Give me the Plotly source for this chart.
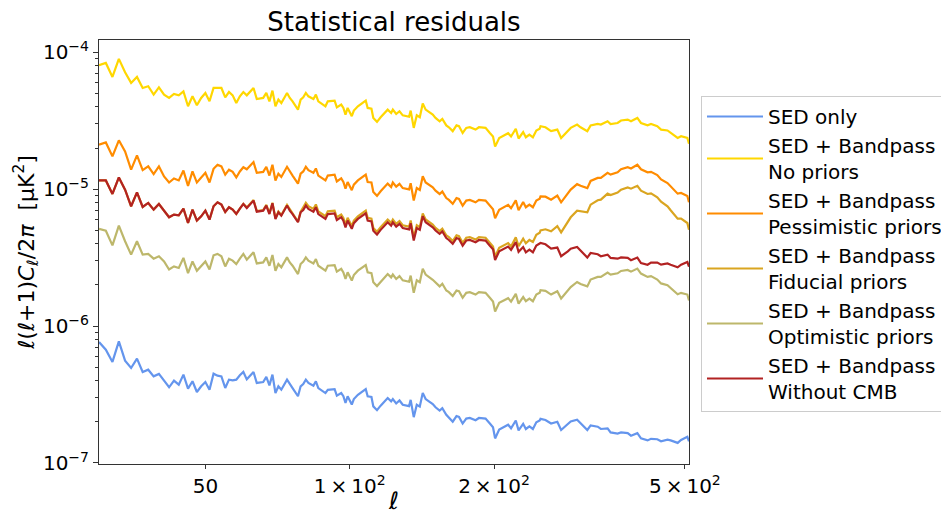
import plotly.graph_objects as go

# multipole values
ell = [30, 31, 32, 33, 34, 35, 36, 37, 38, 39, 40, 41, 42, 43, 44, 45, 46, 47, 48, 49,
       50, 51, 52, 53, 54, 55, 56, 57, 58, 59, 60,
       61, 63, 64, 66, 67, 68, 69, 70, 71, 72, 74, 75, 76, 78, 79, 80, 81, 82, 84, 85,
       86, 89, 90, 93, 94, 96, 97, 98, 99, 101, 102, 104, 108, 109, 111, 112, 114, 116, 120, 122,
       123, 125, 127, 129, 133, 134, 136, 138, 140, 142, 144, 149, 151, 154, 156, 159, 161, 164,
       167, 169, 172, 175, 178, 183, 186, 192, 196, 199, 201, 205, 214, 217, 222, 225, 230, 233,
       237, 241, 245, 249,
       250, 256, 263, 271, 276, 285, 289, 298, 303, 313, 318, 329, 334, 345, 350, 362, 368, 380,
       386, 398, 405, 418, 425, 438, 446, 460, 467, 483, 491, 506, 510]

# values, in units of 1e-7 / 1e-6 / 1e-5 muK^2
sed_only_e7 = [7.65, 6.72, 5.47, 7.74, 5.59, 4.94, 5.78, 4.62, 4.80, 4.29, 4.47, 3.95, 3.57, 3.99, 3.73,
               4.42, 3.49, 3.95, 3.30, 3.63, 3.90, 3.43, 4.49, 4.34, 4.29, 3.53, 4.06, 4.01, 4.06, 4.37, 4.62,
               4.08, 4.62, 3.84, 3.90, 4.25, 3.69, 4.42, 3.24, 3.63, 3.43, 4.06, 3.73, 3.52, 3.07, 3.63,
               3.77, 4.06, 3.84, 3.67, 3.95, 3.52, 3.24, 3.42, 3.46, 3.10, 3.24, 3.07, 2.74, 3.07, 2.67,
               2.93, 3.15, 3.46, 3.07, 3.03, 2.59, 2.43, 2.62, 2.98, 2.82,
               2.93, 2.72, 2.86, 2.66, 2.60, 2.89, 2.16, 2.66, 2.58, 3.25, 2.93, 2.69, 2.55, 2.41, 2.51,
               2.25, 2.13, 2.00, 2.20, 2.17, 1.94, 2.11, 2.13, 2.05, 2.13, 2.11, 1.94, 1.82, 1.51, 1.75,
               1.90, 1.79, 2.04, 1.73, 1.93, 1.77, 1.85, 1.77, 1.98, 2.04,
               2.10, 2.06, 1.94, 2.00, 1.74, 1.92, 2.01, 2.07, 1.95, 1.74, 1.88, 1.84, 1.77, 1.79, 1.67,
               1.64, 1.67, 1.65, 1.58, 1.65, 1.51, 1.46, 1.50, 1.49, 1.44, 1.48, 1.46, 1.40, 1.47, 1.55, 1.44]

no_priors_e5 = [8.06, 8.38, 6.62, 8.97, 7.16, 5.99, 6.62, 5.50, 5.66, 4.92, 5.56, 4.92, 4.65, 4.97, 4.86,
                5.20, 4.04, 4.78, 4.11, 4.65, 5.06, 4.40, 5.50, 5.52, 5.50, 4.70, 5.14, 4.86, 4.27, 4.78, 5.14,
                4.86, 5.50, 4.57, 4.65, 5.06, 4.39, 5.26, 4.04, 4.52, 4.27, 5.06, 4.65, 4.39, 3.82, 4.52,
                4.70, 5.06, 4.78, 4.57, 4.92, 4.39, 4.04, 4.39, 4.44, 3.97, 4.16, 3.93, 3.51, 3.93, 3.42,
                3.76, 4.04, 4.44, 3.93, 3.88, 3.32, 3.11, 3.36, 3.82, 3.61,
                3.82, 3.55, 3.72, 3.47, 3.39, 3.76, 2.81, 3.47, 3.36, 4.23, 3.82, 3.51, 3.32, 3.14, 3.27,
                2.93, 2.84, 2.66, 2.93, 2.89, 2.58, 2.81, 2.84, 2.73, 2.84, 2.81, 2.58, 2.43, 2.05, 2.37,
                2.57, 2.43, 2.77, 2.35, 2.62, 2.40, 2.51, 2.40, 2.69, 2.77,
                2.89, 2.84, 2.66, 2.73, 2.37, 2.66, 2.81, 2.97, 2.84, 2.66, 2.93, 3.00, 2.97, 3.14, 3.00,
                3.05, 3.18, 3.23, 3.14, 3.32, 3.05, 2.93, 3.00, 2.89, 2.73, 2.69, 2.58, 2.37, 2.44, 2.37, 2.15]

pessimistic_e5 = [2.12, 2.20, 1.74, 2.28, 1.89, 1.39, 1.77, 1.38, 1.47, 1.29, 1.47, 1.24, 1.12, 1.20, 1.16,
                  1.37, 1.06, 1.35, 1.12, 1.21, 1.32, 1.12, 1.41, 1.51, 1.47, 1.28, 1.39, 1.34, 1.22, 1.35, 1.45,
                  1.40, 1.58, 1.32, 1.34, 1.46, 1.26, 1.51, 1.16, 1.30, 1.23, 1.46, 1.34, 1.26, 1.10, 1.30,
                  1.35, 1.46, 1.38, 1.32, 1.42, 1.26, 1.16, 1.26, 1.28, 1.14, 1.20, 1.13, 1.01, 1.13, 0.984,
                  1.08, 1.16, 1.28, 1.13, 1.12, 0.955, 0.895, 0.967, 1.10, 1.04,
                  1.12, 1.045, 1.095, 1.02, 0.998, 1.107, 0.827, 1.02, 0.989, 1.245, 1.12, 1.033, 0.977, 0.924,
                  0.962, 0.862, 0.836, 0.783, 0.862, 0.851, 0.759, 0.827, 0.836, 0.803, 0.836, 0.827, 0.759,
                  0.715, 0.614, 0.709, 0.769, 0.727, 0.829, 0.703, 0.806, 0.739, 0.773, 0.739, 0.828, 0.853,
                  0.888, 0.883, 0.840, 0.898, 0.803, 0.929, 0.994, 1.09, 1.06, 1.02, 1.15, 1.21, 1.21, 1.32,
                  1.28, 1.33, 1.40, 1.45, 1.42, 1.51, 1.40, 1.33, 1.34, 1.27, 1.18, 1.11, 1.05, 0.929, 0.940,
                  0.893, 0.803]

fiducial_e6 = [11.6, 11.6, 9.24, 12.2, 9.94, 7.51, 9.50, 7.42, 7.94, 7.10, 7.81, 6.90, 6.24, 6.53, 6.45,
               7.22, 5.67, 7.10, 5.90, 6.34, 6.98, 6.00, 7.51, 8.03, 7.72, 6.83, 7.38, 7.10, 6.60, 7.22, 7.81,
               7.37, 8.35, 6.93, 7.06, 7.68, 6.66, 7.98, 6.13, 6.86, 6.48, 7.68, 7.06, 6.66, 5.80, 6.86,
               7.39, 7.96, 7.52, 7.19, 7.74, 6.90, 6.35, 6.90, 6.98, 6.24, 6.54, 6.18, 5.52, 6.18, 5.38,
               5.91, 6.35, 6.98, 6.18, 6.10, 5.22, 4.89, 5.28, 6.01, 5.68,
               6.01, 5.58, 5.85, 5.46, 5.33, 5.91, 4.42, 5.46, 5.28, 6.65, 6.01, 5.52, 5.22, 4.94, 5.14,
               4.61, 4.47, 4.18, 4.61, 4.54, 4.06, 4.42, 4.47, 4.29, 4.47, 4.42, 4.06, 3.82, 3.22, 3.73,
               4.04, 3.82, 4.45, 3.83, 4.35, 4.03, 4.26, 4.12, 4.65, 4.81,
               5.01, 5.10, 4.93, 5.37, 4.84, 5.74, 6.24, 6.98, 6.90, 6.79, 7.72, 8.31, 8.40, 9.29, 9.08,
               9.45, 9.94, 10.3, 10.1, 10.6, 9.77, 9.24, 9.34, 8.73, 8.12, 7.51, 7.02, 6.10, 6.10, 5.67, 5.07]

optimistic_e6 = [5.13, 4.98, 3.89, 5.42, 4.17, 3.33, 4.17, 3.33, 3.37, 3.11, 3.24, 2.97, 2.59, 2.73, 2.66,
                 3.15, 2.44, 2.97, 2.54, 2.73, 2.97, 2.59, 3.29, 3.37, 3.24, 2.73, 3.11, 3.01, 2.84, 3.11, 3.37,
                 3.06, 3.46, 2.87, 2.92, 3.18, 2.76, 3.31, 2.54, 2.84, 2.69, 3.18, 2.92, 2.76, 2.40, 2.84,
                 2.96, 3.18, 3.01, 2.87, 3.09, 2.76, 2.54, 2.76, 2.79, 2.50, 2.62, 2.47, 2.21, 2.47, 2.15,
                 2.36, 2.54, 2.79, 2.47, 2.44, 2.09, 1.96, 2.11, 2.40, 2.27,
                 2.38, 2.21, 2.32, 2.16, 2.11, 2.34, 1.75, 2.16, 2.09, 2.63, 2.38, 2.18, 2.07, 1.95, 2.04,
                 1.82, 1.77, 1.66, 1.82, 1.80, 1.61, 1.75, 1.77, 1.70, 1.77, 1.75, 1.61, 1.51, 1.28, 1.48,
                 1.60, 1.51, 1.72, 1.46, 1.63, 1.52, 1.59, 1.52, 1.70, 1.75,
                 1.83, 1.81, 1.70, 1.80, 1.59, 1.81, 1.93, 2.10, 2.03, 1.95, 2.19, 2.29, 2.29, 2.46, 2.38,
                 2.43, 2.53, 2.57, 2.50, 2.63, 2.42, 2.29, 2.32, 2.19, 2.05, 1.99, 1.89, 1.71, 1.75, 1.70, 1.54]

without_cmb_e6 = [11.6, 11.6, 9.24, 12.2, 9.94, 7.51, 9.50, 7.42, 7.94, 7.10, 7.81, 6.90, 6.24, 6.53, 6.45,
                  7.22, 5.67, 7.10, 5.90, 6.34, 6.98, 6.00, 7.51, 8.03, 7.72, 6.83, 7.38, 7.10, 6.60, 7.22, 7.81,
                  7.30, 8.26, 6.86, 6.98, 7.60, 6.59, 7.90, 6.07, 6.79, 6.41, 7.60, 6.98, 6.59, 5.74, 6.79,
                  7.06, 7.60, 7.18, 6.86, 7.39, 6.59, 6.07, 6.59, 6.67, 5.96, 6.25, 5.90, 5.27, 5.90, 5.14,
                  5.65, 6.07, 6.67, 5.90, 5.83, 4.98, 4.67, 5.05, 5.74, 5.42,
                  5.74, 5.33, 5.59, 5.21, 5.09, 5.65, 4.22, 5.21, 5.05, 6.35, 5.74, 5.27, 4.99, 4.72, 4.91,
                  4.40, 4.26, 3.99, 4.40, 4.34, 3.87, 4.22, 4.26, 4.10, 4.26, 4.22, 3.87, 3.65, 3.04, 3.52,
                  3.81, 3.61, 4.11, 3.49, 3.78, 3.46, 3.62, 3.46, 3.88, 4.00,
                  4.05, 3.96, 3.68, 3.75, 3.24, 3.52, 3.68, 3.79, 3.56, 3.17, 3.42, 3.35, 3.24, 3.33, 3.15,
                  3.11, 3.18, 3.15, 3.03, 3.17, 2.89, 2.81, 2.91, 2.91, 2.81, 2.87, 2.81, 2.69, 2.81, 2.94, 2.72]

series = [
    ("SED only", [v * 1e-7 for v in sed_only_e7], "#6495ED"),
    ("SED + Bandpass<br>No priors", [v * 1e-5 for v in no_priors_e5], "#FFD700"),
    ("SED + Bandpass<br>Pessimistic priors", [v * 1e-5 for v in pessimistic_e5], "#FF8C00"),
    ("SED + Bandpass<br>Fiducial priors", [v * 1e-6 for v in fiducial_e6], "#DAA520"),
    ("SED + Bandpass<br>Optimistic priors", [v * 1e-6 for v in optimistic_e6], "#BDB76B"),
    ("SED + Bandpass<br>Without CMB", [v * 1e-6 for v in without_cmb_e6], "#B22222"),
]

TS = "\u2009"
x_tickvals = [50, 100, 200, 500]
x_ticktext = ["50",
              f"1{TS}\u00d7{TS}10<sup>2</sup>",
              f"2{TS}\u00d7{TS}10<sup>2</sup>",
              f"5{TS}\u00d7{TS}10<sup>2</sup>"]
y_tickvals = [1e-7, 1e-6, 1e-5, 1e-4]
y_ticktext = ["10<sup>\u22127</sup>", "10<sup>\u22126</sup>", "10<sup>\u22125</sup>", "10<sup>\u22124</sup>"]
y_minor = [m * d for d in (1e-7, 1e-6, 1e-5) for m in range(2, 10)]

FONT = "DejaVu Sans"

# the page body has an 8px margin, so the figure is sized to fit the window
W, H = 941, 507
L, R, T, B = 91, 260, 32, 51
plot_w = W - L - R
plot_h = H - T - B

fig = go.Figure()
for name, vals, color in series:
    fig.add_trace(go.Scatter(x=ell, y=vals, mode="lines", name=name,
                             line=dict(color=color, width=2.2)))

fig.update_layout(
    width=W, height=H,
    paper_bgcolor="white", plot_bgcolor="white",
    margin=dict(l=L, r=R, t=T, b=B, autoexpand=False),
    font=dict(family=FONT, size=20, color="black"),
    title=dict(text="Statistical residuals", x=(L + plot_w / 2) / W, xanchor="center",
               y=1 - 14 / H, yanchor="middle", yref="container",
               font=dict(family=FONT, size=26, color="black")),
    showlegend=True,
    legend=dict(x=(693 - L) / plot_w, xanchor="left", y=(T + plot_h - 88) / plot_h, yanchor="top",
                bgcolor="white", bordercolor="#cccccc", borderwidth=1,
                font=dict(family=FONT, size=20, color="black"),
                tracegroupgap=0, itemwidth=56),
    xaxis=dict(type="log", range=[1.4771, 2.7076],
               tickvals=x_tickvals, ticktext=x_ticktext,
               ticks="outside", ticklen=4, tickcolor="#333", tickwidth=1,
               showgrid=False, zeroline=False,
               showline=True, linecolor="#333", linewidth=1, mirror=True,
               tickfont=dict(family=FONT, size=20, color="black"),
               title=dict(text="<i>\u2113</i>", font=dict(family=FONT, size=24, color="black"),
                          standoff=5)),
    yaxis=dict(type="log", range=[-7.008, -3.909],
               tickvals=y_tickvals, ticktext=y_ticktext,
               ticks="outside", ticklen=5, tickcolor="#333", tickwidth=1,
               minor=dict(tickvals=y_minor, ticks="outside", ticklen=3, tickcolor="#333"),
               showgrid=False, zeroline=False,
               showline=True, linecolor="#333", linewidth=1, mirror=True,
               tickfont=dict(family=FONT, size=20, color="black"),
               title=dict(text="<i>\u2113</i>(<i>\u2113</i>+1)<i>C</i><sub><i>\u2113</i></sub>/2<i>\u03c0</i> &nbsp;[\u03bcK<sup>2</sup>]",
                          font=dict(family=FONT, size=22, color="black"), standoff=2)),
)

fig.write_html("out.html")
